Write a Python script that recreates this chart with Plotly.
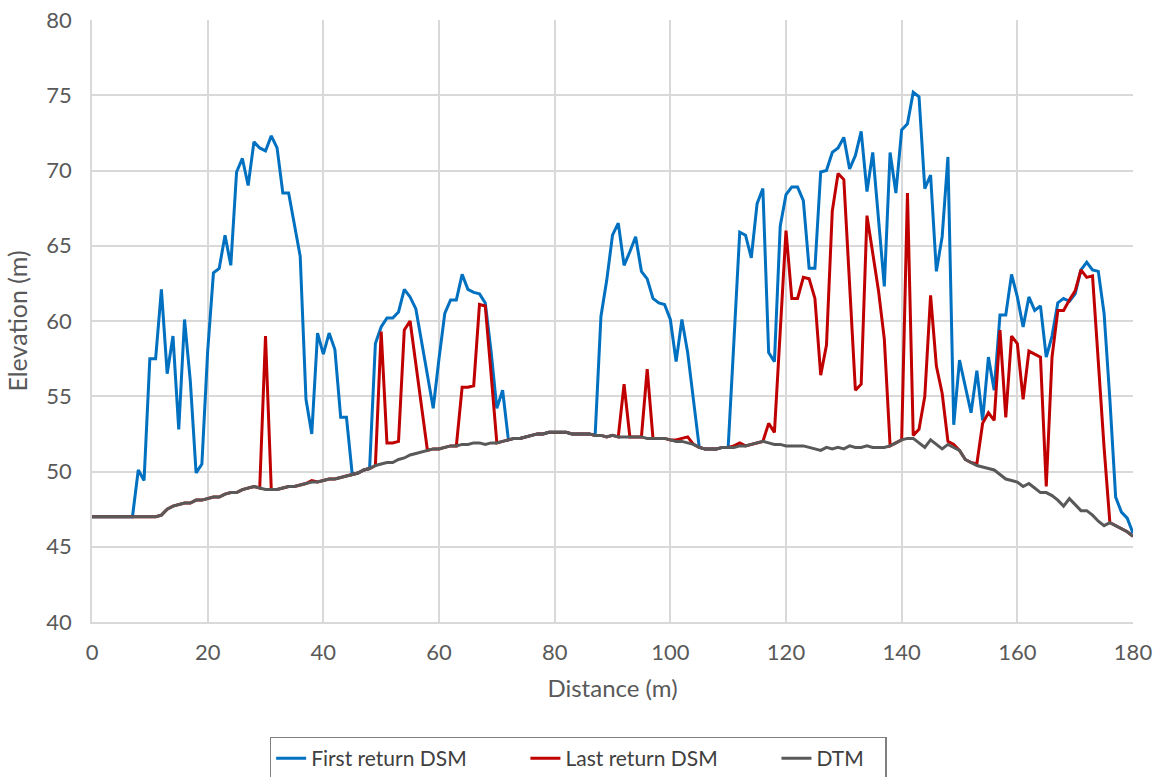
import plotly.graph_objects as go

distance = list(range(0, 181))

dtm = [
    47.0, 47.0, 47.0, 47.0, 47.0, 47.0, 47.0, 47.0, 47.0, 47.0,   # 0-9
    47.0, 47.0, 47.1, 47.5, 47.7, 47.8, 47.9, 47.9, 48.1, 48.1,   # 10-19
    48.2, 48.3, 48.3, 48.5, 48.6, 48.6, 48.8, 48.9, 49.0, 48.9,   # 20-29
    48.8, 48.8, 48.8, 48.9, 49.0, 49.0, 49.1, 49.2, 49.3, 49.3,   # 30-39
    49.4, 49.5, 49.5, 49.6, 49.7, 49.8, 49.9, 50.1, 50.2, 50.4,   # 40-49
    50.5, 50.6, 50.6, 50.8, 50.9, 51.1, 51.2, 51.3, 51.4, 51.5,   # 50-59
    51.5, 51.6, 51.7, 51.7, 51.8, 51.8, 51.9, 51.9, 51.8, 51.9,   # 60-69
    51.9, 52.0, 52.1, 52.2, 52.2, 52.3, 52.4, 52.5, 52.5, 52.6,   # 70-79
    52.6, 52.6, 52.6, 52.5, 52.5, 52.5, 52.5, 52.4, 52.4, 52.3,   # 80-89
    52.4, 52.3, 52.3, 52.3, 52.3, 52.3, 52.2, 52.2, 52.2, 52.2,   # 90-99
    52.1, 52.0, 52.0, 51.9, 51.8, 51.6, 51.5, 51.5, 51.5, 51.6,   # 100-109
    51.6, 51.6, 51.7, 51.7, 51.8, 51.9, 52.0, 51.9, 51.8, 51.8,   # 110-119
    51.7, 51.7, 51.7, 51.7, 51.6, 51.5, 51.4, 51.6, 51.5, 51.6,   # 120-129
    51.5, 51.7, 51.6, 51.6, 51.7, 51.6, 51.6, 51.6, 51.7, 51.9,   # 130-139
    52.1, 52.2, 52.2, 51.9, 51.6, 52.1, 51.8, 51.5, 51.8, 51.6,   # 140-149
    51.4, 50.8, 50.6, 50.4, 50.3, 50.2, 50.1, 49.8, 49.5, 49.4,   # 150-159
    49.3, 49.0, 49.2, 48.9, 48.6, 48.6, 48.4, 48.1, 47.7, 48.2,   # 160-169
    47.8, 47.4, 47.4, 47.1, 46.7, 46.4, 46.6, 46.4, 46.2, 46.0,   # 170-179
    45.7,                                                         # 180
]

first_return = [
    47.0, 47.0, 47.0, 47.0, 47.0, 47.0, 47.0, 47.0, 50.1, 49.4,   # 0-9
    57.5, 57.5, 62.1, 56.5, 59.0, 52.8, 60.1, 56.0, 49.9, 50.5,   # 10-19
    58.0, 63.2, 63.5, 65.7, 63.7, 69.9, 70.8, 69.0, 71.9, 71.5,   # 20-29
    71.3, 72.3, 71.5, 68.5, 68.5, 66.3, 64.3, 54.8, 52.5, 59.2,   # 30-39
    57.8, 59.2, 58.1, 53.6, 53.6, 49.8, 49.9, 50.1, 50.2, 58.5,   # 40-49
    59.6, 60.2, 60.2, 60.6, 62.1, 61.6, 60.8, 58.6, 56.4, 54.2,   # 50-59
    57.5, 60.5, 61.4, 61.4, 63.1, 62.1, 61.9, 61.8, 61.2, 58.0,   # 60-69
    54.2, 55.4, 52.1, 52.2, 52.2, 52.3, 52.4, 52.5, 52.5, 52.6,   # 70-79
    52.6, 52.6, 52.6, 52.5, 52.5, 52.5, 52.5, 52.4, 60.3, 62.7,   # 80-89
    65.7, 66.5, 63.7, 64.6, 65.6, 63.3, 62.8, 61.5, 61.2, 61.1,   # 90-99
    60.1, 57.3, 60.1, 57.9, 54.8, 51.6, 51.5, 51.5, 51.5, 51.6,   # 100-109
    51.6, 58.7, 65.9, 65.7, 64.2, 67.8, 68.8, 57.9, 57.3, 66.3,   # 110-119
    68.4, 68.9, 68.9, 68.0, 63.5, 63.5, 69.9, 70.0, 71.2, 71.5,   # 120-129
    72.2, 70.1, 71.0, 72.6, 68.6, 71.2, 66.7, 62.3, 71.2, 68.5,   # 130-139
    72.7, 73.1, 75.2, 74.9, 68.8, 69.7, 63.3, 65.6, 70.9, 53.1,   # 140-149
    57.4, 55.6, 53.9, 56.7, 53.4, 57.6, 55.4, 60.4, 60.4, 63.1,   # 150-159
    61.6, 59.6, 61.6, 60.7, 61.0, 57.6, 59.0, 61.2, 61.5, 61.3,   # 160-169
    61.8, 63.4, 63.9, 63.4, 63.3, 60.5, 54.8, 48.3, 47.3, 46.9,   # 170-179
    45.9,                                                         # 180
]

last_return = [
    47.0, 47.0, 47.0, 47.0, 47.0, 47.0, 47.0, 47.0, 47.0, 47.0,   # 0-9
    47.0, 47.0, 47.1, 47.5, 47.7, 47.8, 47.9, 47.9, 48.1, 48.1,   # 10-19
    48.2, 48.3, 48.3, 48.5, 48.6, 48.6, 48.8, 48.9, 49.0, 48.9,   # 20-29
    59.0, 48.8, 48.8, 48.9, 49.0, 49.0, 49.1, 49.2, 49.4, 49.3,   # 30-39
    49.4, 49.5, 49.5, 49.6, 49.7, 49.8, 49.9, 50.1, 50.2, 50.4,   # 40-49
    59.3, 51.9, 51.9, 52.0, 59.4, 60.0, 57.1, 54.2, 51.4, 51.5,   # 50-59
    51.5, 51.6, 51.7, 51.7, 55.6, 55.6, 55.7, 61.1, 61.0, 56.5,   # 60-69
    51.9, 52.0, 52.1, 52.2, 52.2, 52.3, 52.4, 52.5, 52.5, 52.6,   # 70-79
    52.6, 52.6, 52.6, 52.5, 52.5, 52.5, 52.5, 52.4, 52.4, 52.3,   # 80-89
    52.4, 52.3, 55.8, 52.3, 52.3, 52.3, 56.8, 52.2, 52.2, 52.2,   # 90-99
    52.1, 52.1, 52.2, 52.3, 51.8, 51.6, 51.5, 51.5, 51.5, 51.6,   # 100-109
    51.6, 51.7, 51.9, 51.7, 51.8, 51.9, 52.0, 53.2, 52.6, 59.3,   # 110-119
    66.0, 61.5, 61.5, 62.9, 62.8, 61.5, 56.4, 58.4, 67.3, 69.8,   # 120-129
    69.4, 62.4, 55.4, 55.8, 67.0, 64.5, 62.0, 58.8, 51.7, 51.9,   # 130-139
    52.1, 68.5, 52.4, 52.8, 55.0, 61.7, 57.0, 55.2, 52.0, 51.8,   # 140-149
    51.4, 50.8, 50.6, 50.5, 53.2, 53.9, 53.4, 59.4, 53.6, 59.0,   # 150-159
    58.5, 54.8, 58.0, 57.8, 57.6, 49.0, 57.6, 60.7, 60.7, 61.4,   # 160-169
    62.0, 63.4, 62.9, 63.0, 57.2, 51.6, 46.6, 46.4, 46.2, 46.0,   # 170-179
    45.7,                                                         # 180
]

series_names = ["First return DSM", "Last return DSM", "DTM"]
x_ticks = [0, 20, 40, 60, 80, 100, 120, 140, 160, 180]
y_ticks = [40, 45, 50, 55, 60, 65, 70, 75, 80]

FONT = "Lato"
TXT = "#595959"
GRID = "#d9d9d9"
PAD = "\u00a0" * 10

fig = go.Figure()
fig.add_trace(go.Scatter(x=distance, y=first_return, mode="lines",
                         name=series_names[0] + PAD,
                         line=dict(color="#0070C0", width=3)))
fig.add_trace(go.Scatter(x=distance, y=last_return, mode="lines",
                         name=series_names[1] + PAD,
                         line=dict(color="#C00000", width=3)))
fig.add_trace(go.Scatter(x=distance, y=dtm, mode="lines",
                         name=series_names[2] + "\u00a0" * 3,
                         line=dict(color="#595959", width=3)))

fig.update_layout(
    width=1156, height=777,
    margin=dict(l=92, r=23, t=20, b=155),
    paper_bgcolor="white", plot_bgcolor="white",
    font=dict(family=FONT, color=TXT, size=21),
    showlegend=True,
    legend=dict(orientation="h", x=0.467, xanchor="center",
                yref="container", y=0.052, yanchor="top",
                bordercolor="#7f7f7f", borderwidth=1.5, bgcolor="white",
                font=dict(family=FONT, size=21, color="#404040"),
                itemwidth=30, tracegroupgap=0),
    xaxis=dict(range=[0, 180], tickvals=x_ticks, showgrid=True, gridcolor=GRID, gridwidth=1.5,
               showline=True, linecolor=GRID, linewidth=1.5, zeroline=False,
               ticks="", ticklabelstandoff=10, automargin=False,
               tickfont=dict(family=FONT, size=22, color=TXT),
               title=dict(text="Distance (m)", standoff=16,
                          font=dict(family=FONT, size=24, color=TXT))),
    yaxis=dict(range=[40, 80], tickvals=y_ticks, showgrid=True, gridcolor=GRID, gridwidth=1.5,
               showline=True, linecolor=GRID, linewidth=1.5, zeroline=False,
               ticks="", ticklabelstandoff=14, automargin=False,
               tickfont=dict(family=FONT, size=22, color=TXT),
               title=dict(text="Elevation (m)", standoff=12,
                          font=dict(family=FONT, size=25, color=TXT))),
)

fig.write_html("out.html", config={"displayModeBar": False},
               post_script="document.body.style.margin='0';document.body.style.overflow='hidden';")
